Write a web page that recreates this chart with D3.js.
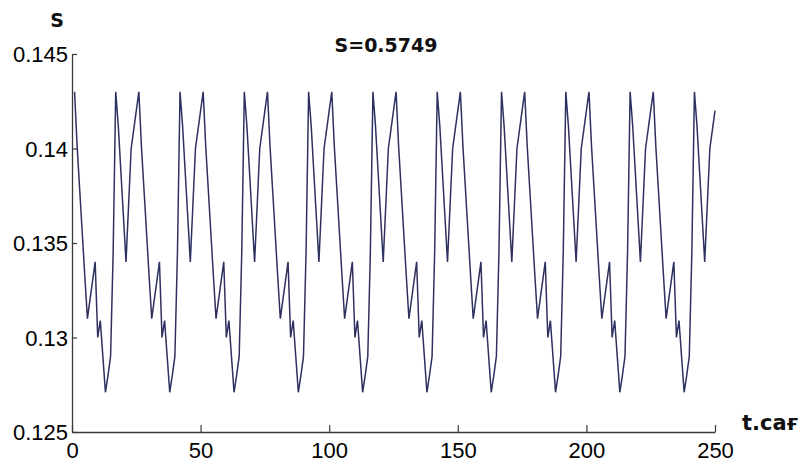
<!DOCTYPE html>
<html>
<head>
<meta charset="utf-8">
<script src="https://cdn.jsdelivr.net/npm/d3@7"></script>
<style>
  html, body { margin: 0; padding: 0; background: #fff; }
  svg { display: block; }
</style>
</head>
<body>
<svg id="chart" width="802" height="464"></svg>
<script>
// ---- data ----
const titleText = "S=0.5749";
const yLabel = "S";
const xLabel = "t.сағ";
const xTicks = [0, 50, 100, 150, 200, 250];
const xTickLabels = ["0", "50", "100", "150", "200", "250"];
const yTicks = [0.125, 0.13, 0.135, 0.14, 0.145];
const yTickLabels = ["0.125", "0.13", "0.135", "0.14", "0.145"];
const tStart = 1; // first sample at t = 1, one sample per hour
const sValues = [
  0.1430, 0.1401, 0.1378, 0.1355, 0.1332, 0.1310, 0.1320, 0.1330, 0.1340, 0.1300, 0.1309, 0.1290, 0.1271, 0.1280, 0.1290, 0.1345,
  0.1430, 0.1412, 0.1388, 0.1364, 0.1340, 0.1370, 0.1400, 0.1410, 0.1420, 0.1430, 0.1401, 0.1378, 0.1355, 0.1332, 0.1310, 0.1320, 0.1330, 0.1340, 0.1300, 0.1309, 0.1290, 0.1271, 0.1280, 0.1290, 0.1345,
  0.1430, 0.1412, 0.1388, 0.1364, 0.1340, 0.1370, 0.1400, 0.1410, 0.1420, 0.1430, 0.1401, 0.1378, 0.1355, 0.1332, 0.1310, 0.1320, 0.1330, 0.1340, 0.1300, 0.1309, 0.1290, 0.1271, 0.1280, 0.1290, 0.1345,
  0.1430, 0.1412, 0.1388, 0.1364, 0.1340, 0.1370, 0.1400, 0.1410, 0.1420, 0.1430, 0.1401, 0.1378, 0.1355, 0.1332, 0.1310, 0.1320, 0.1330, 0.1340, 0.1300, 0.1309, 0.1290, 0.1271, 0.1280, 0.1290, 0.1345,
  0.1430, 0.1412, 0.1388, 0.1364, 0.1340, 0.1370, 0.1400, 0.1410, 0.1420, 0.1430, 0.1401, 0.1378, 0.1355, 0.1332, 0.1310, 0.1320, 0.1330, 0.1340, 0.1300, 0.1309, 0.1290, 0.1271, 0.1280, 0.1290, 0.1345,
  0.1430, 0.1412, 0.1388, 0.1364, 0.1340, 0.1370, 0.1400, 0.1410, 0.1420, 0.1430, 0.1401, 0.1378, 0.1355, 0.1332, 0.1310, 0.1320, 0.1330, 0.1340, 0.1300, 0.1309, 0.1290, 0.1271, 0.1280, 0.1290, 0.1345,
  0.1430, 0.1412, 0.1388, 0.1364, 0.1340, 0.1370, 0.1400, 0.1410, 0.1420, 0.1430, 0.1401, 0.1378, 0.1355, 0.1332, 0.1310, 0.1320, 0.1330, 0.1340, 0.1300, 0.1309, 0.1290, 0.1271, 0.1280, 0.1290, 0.1345,
  0.1430, 0.1412, 0.1388, 0.1364, 0.1340, 0.1370, 0.1400, 0.1410, 0.1420, 0.1430, 0.1401, 0.1378, 0.1355, 0.1332, 0.1310, 0.1320, 0.1330, 0.1340, 0.1300, 0.1309, 0.1290, 0.1271, 0.1280, 0.1290, 0.1345,
  0.1430, 0.1412, 0.1388, 0.1364, 0.1340, 0.1370, 0.1400, 0.1410, 0.1420, 0.1430, 0.1401, 0.1378, 0.1355, 0.1332, 0.1310, 0.1320, 0.1330, 0.1340, 0.1300, 0.1309, 0.1290, 0.1271, 0.1280, 0.1290, 0.1345,
  0.1430, 0.1412, 0.1388, 0.1364, 0.1340, 0.1370, 0.1400, 0.1410, 0.1420, 0.1430, 0.1401, 0.1378, 0.1355, 0.1332, 0.1310, 0.1320, 0.1330, 0.1340, 0.1300, 0.1309, 0.1290, 0.1271, 0.1280, 0.1290, 0.1345,
  0.1430, 0.1412, 0.1388, 0.1364, 0.1340, 0.1370, 0.1400, 0.1410, 0.1420
];

// ---- layout ----
const svg = d3.select("#chart");
const plot = { left: 72, right: 715, top: 54, bottom: 432 };

const x = d3.scaleLinear().domain([0, 250]).range([plot.left, plot.right]);
const y = d3.scaleLinear().domain([0.125, 0.145]).range([plot.bottom, plot.top]);

const axisColor = "#3a3a3a";
const tickFont = "'Liberation Sans', Arial, sans-serif";
const boldFont = "'DejaVu Sans', Verdana, sans-serif";

// x axis
const gx = svg.append("g")
  .attr("transform", `translate(0,${plot.bottom})`)
  .call(d3.axisBottom(x)
    .tickValues(xTicks)
    .tickFormat((d, i) => xTickLabels[i])
    .tickSizeInner(-7)
    .tickSizeOuter(0)
    .tickPadding(10));
gx.select(".domain").attr("stroke", axisColor).attr("stroke-width", 1.3);
gx.selectAll(".tick line").attr("stroke", axisColor).attr("stroke-width", 1.2);
gx.selectAll(".tick text")
  .attr("fill", "#000")
  .attr("font-family", tickFont)
  .attr("font-size", 22)
  .attr("dy", "0.71em");

// y axis
const gy = svg.append("g")
  .attr("transform", `translate(${plot.left},0)`)
  .call(d3.axisLeft(y)
    .tickValues(yTicks)
    .tickFormat((d, i) => yTickLabels[i])
    .tickSizeInner(-5)
    .tickSizeOuter(0)
    .tickPadding(4));
gy.select(".domain").attr("stroke", axisColor).attr("stroke-width", 1.3);
gy.selectAll(".tick line").attr("stroke", axisColor).attr("stroke-width", 1.2);
gy.selectAll(".tick text")
  .attr("fill", "#000")
  .attr("font-family", tickFont)
  .attr("font-size", 22)
  .attr("dy", "0.36em");

// line
const pts = sValues.map((v, i) => [tStart + i, v]);
const line = d3.line().x(d => x(d[0])).y(d => y(d[1]));
svg.append("path")
  .datum(pts)
  .attr("d", line)
  .attr("fill", "none")
  .attr("stroke", "#2e3060")
  .attr("stroke-width", 1.5)
  .attr("stroke-linejoin", "miter");

// title and labels
svg.append("text")
  .attr("x", 386).attr("y", 51.5)
  .attr("text-anchor", "middle")
  .attr("font-family", boldFont)
  .attr("font-weight", "bold")
  .attr("font-size", 19)
  .attr("fill", "#111")
  .text(titleText);

svg.append("text")
  .attr("x", 57).attr("y", 27)
  .attr("text-anchor", "middle")
  .attr("font-family", boldFont)
  .attr("font-weight", "bold")
  .attr("font-size", 19)
  .attr("fill", "#111")
  .text(yLabel);

svg.append("text")
  .attr("x", 742).attr("y", 430)
  .attr("text-anchor", "start")
  .attr("font-family", boldFont)
  .attr("font-weight", "bold")
  .attr("font-size", 21)
  .attr("fill", "#111")
  .text(xLabel);
</script>
</body>
</html>
